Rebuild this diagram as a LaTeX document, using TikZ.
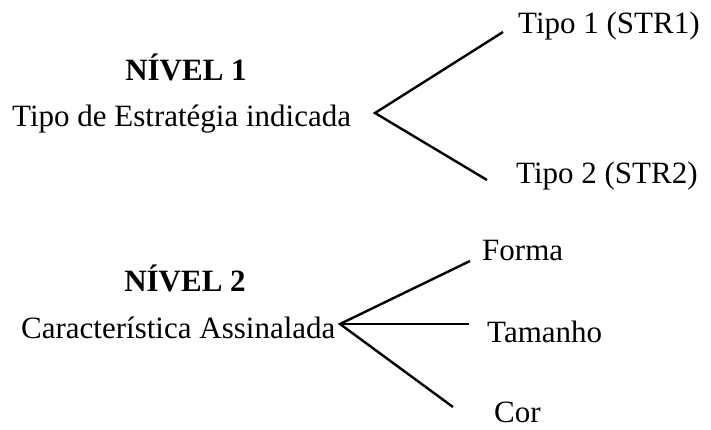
\documentclass[tikz,border=0pt]{standalone}
\usepackage{fontspec}
\setmainfont{Liberation Serif}
\begin{document}
\begin{tikzpicture}[x=1pt,y=-1pt,
  lbl/.style={font=\fontsize{31}{36}\selectfont, inner sep=0pt, anchor=base west},
  hd/.style={font=\fontsize{31}{36}\selectfont\bfseries, inner sep=0pt, anchor=base},
  br/.style={line width=2.4pt}]
\useasboundingbox (0,0) rectangle (711,429);
\node[hd] (n1) at (186,80) {NÍVEL 1};
\node[lbl] (t1) at (12,126) {Tipo de Estratégia indicada};
\node[lbl] (s1) at (518,33) {Tipo 1 (STR1)};
\node[lbl] (s2) at (516,183) {Tipo 2 (STR2)};
\coordinate (v1) at (375,113);
\coordinate (e1) at (503,32);
\coordinate (e2) at (487,180);
\draw[br] (e1) -- (v1) -- (e2);
\node[hd] (n2) at (185,291) {NÍVEL 2};
\node[lbl] (t2) at (21,338) {Característica Assinalada};
\node[lbl] (f) at (482,260) {Forma};
\node[lbl] (ta) at (487,342) {Tamanho};
\node[lbl] (c) at (494,422) {Cor};
\coordinate (v2) at (340,324);
\coordinate (g1) at (470,261);
\coordinate (g2) at (469,324);
\coordinate (g3) at (453,407);
\draw[br] (g1) -- (v2) -- (g3);
\draw[br] (v2) -- (g2);
\end{tikzpicture}
\end{document}
